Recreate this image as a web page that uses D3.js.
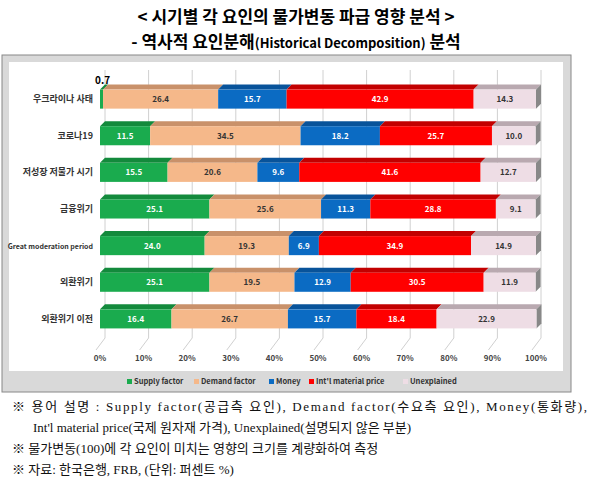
<!DOCTYPE html><html><head><meta charset="utf-8"><script src="https://cdn.jsdelivr.net/npm/d3@7"></script>
<style>body{margin:0;background:#fff}</style></head><body><svg id="c" width="592" height="478"></svg>
<script>
const categories=["우크라이나 사태","코로나19","저성장 저물가 시기","금융위기","Great moderation period","외환위기","외환위기 이전"];
const seriesNames=["Supply factor","Demand factor","Money","Int'l material price","Unexplained"];
const supply=[0.7,11.5,15.5,25.1,24.0,25.1,16.4];
const demand=[26.4,34.5,20.6,25.6,19.3,19.5,26.7];
const money=[15.7,18.2,9.6,11.3,6.9,12.9,15.7];
const intl=[42.9,25.7,41.6,28.8,34.9,30.5,18.4];
const unexpl=[14.3,10.0,12.7,9.1,14.9,11.9,22.9];
const ticks=[0,10,20,30,40,50,60,70,80,90,100];
const colors=["#1aab4e","#f5b88a","#0b6bc3","#ff0000","#eedde5"];
const tops=["#138a3c","#c9916a","#08539a","#c20000","#b9a9b0"];
const textCol=["#fff","#333","#fff","#fff","#333"];
const svg=d3.select("#c");
const F="'Noto Sans CJK KR','Noto Sans',sans-serif";
svg.append("text").attr("x",296).attr("y",23).attr("text-anchor","middle").attr("font-family",F).attr("font-weight","bold").attr("font-size",17).text("< 시기별 각 요인의 물가변동 파급 영향 분석 >");
const t2=svg.append("text").attr("x",296).attr("y",48).attr("text-anchor","middle").attr("font-family",F).attr("font-weight","bold").attr("font-size",17);
t2.append("tspan").text("- 역사적 요인분해");t2.append("tspan").attr("font-size",13).text("(Historical Decomposition)");t2.append("tspan").text(" 분석");
svg.append("rect").attr("x",2).attr("y",55).attr("width",569).attr("height",337).attr("fill","#d9d9d9").attr("stroke","#888");
svg.append("rect").attr("x",9).attr("y",62).attr("width",554).attr("height",309).attr("fill","#fff");
const x=d3.scaleLinear().domain([0,100]).range([100,536]);
const y=d3.scaleBand().domain(categories).range([72,346]).padding(0.48);
const d=5;
ticks.forEach(t=>{
 svg.append("line").attr("x1",x(t)+d).attr("x2",x(t)+d).attr("y1",70).attr("y2",338).attr("stroke","#d0d0d0");
 svg.append("line").attr("x1",x(t)+d).attr("x2",x(t)-4).attr("y1",338).attr("y2",350).attr("stroke","#d0d0d0");
 svg.append("text").attr("x",x(t)).attr("y",361).attr("text-anchor","middle").attr("font-family",F).attr("font-size",8).attr("font-weight","bold").attr("fill","#444").text(t+"%");
});
const data=[supply,demand,money,intl,unexpl];
categories.forEach((c,i)=>{
 let acc=0;const yy=y(c),h=y.bandwidth();
 svg.append("text").attr("x",93).attr("y",yy+h/2+3).attr("text-anchor","end").attr("font-family",F).attr("font-weight","bold").attr("font-size",c.length>15?7:9).attr("fill","#333").text(c);
 data.forEach((s,k)=>{
  const v=s[i],x0=x(acc),x1=x(acc+v);acc+=v;
  svg.append("path").attr("d",`M${x0},${yy}L${x0+d},${yy-d}L${x1+d},${yy-d}L${x1},${yy}Z`).attr("fill",tops[k]);
  if(k===4) svg.append("path").attr("d",`M${x1},${yy}L${x1+d},${yy-d}L${x1+d},${yy+h-d}L${x1},${yy+h}Z`).attr("fill","#888");
  svg.append("rect").attr("x",x0).attr("y",yy).attr("width",x1-x0).attr("height",h).attr("fill",colors[k]);
  if(v>=2) svg.append("text").attr("x",(x0+x1)/2).attr("y",yy+h/2+3).attr("text-anchor","middle").attr("font-family",F).attr("font-size",8).attr("font-weight","bold").attr("fill",textCol[k]).text(v.toFixed(1));
  else svg.append("text").attr("x",x0-5).attr("y",yy-6).attr("font-family",F).attr("font-size",10).attr("font-weight","bold").text(v.toFixed(1));
 });
});
const lx=[127,194,269,309,403];
seriesNames.forEach((n,k)=>{
 svg.append("rect").attr("x",lx[k]).attr("y",379).attr("width",5).attr("height",5).attr("fill",colors[k]);
 svg.append("text").attr("x",lx[k]+7).attr("y",384).attr("font-family",F).attr("font-size",7.5).attr("font-weight","bold").attr("fill","#333").text(n);
});
const notes=[["※ 용어 설명 : Supply factor(공급측 요인), Demand factor(수요측 요인), Money(통화량),",12,411],["Int'l material price(국제 원자재 가격), Unexplained(설명되지 않은 부분)",33,432],["※ 물가변동(100)에 각 요인이 미치는 영향의 크기를 계량화하여 측정",12,453],["※ 자료: 한국은행, FRB, (단위: 퍼센트 %)",12,474]];
notes.forEach(n=>svg.append("text").attr("x",n[1]).attr("y",n[2]).attr("font-family","'Liberation Serif','Noto Sans CJK KR',serif").attr("font-size",13).attr("textLength",n[0].length>60?575:null).attr("fill","#111").text(n[0]));
</script></body></html>
